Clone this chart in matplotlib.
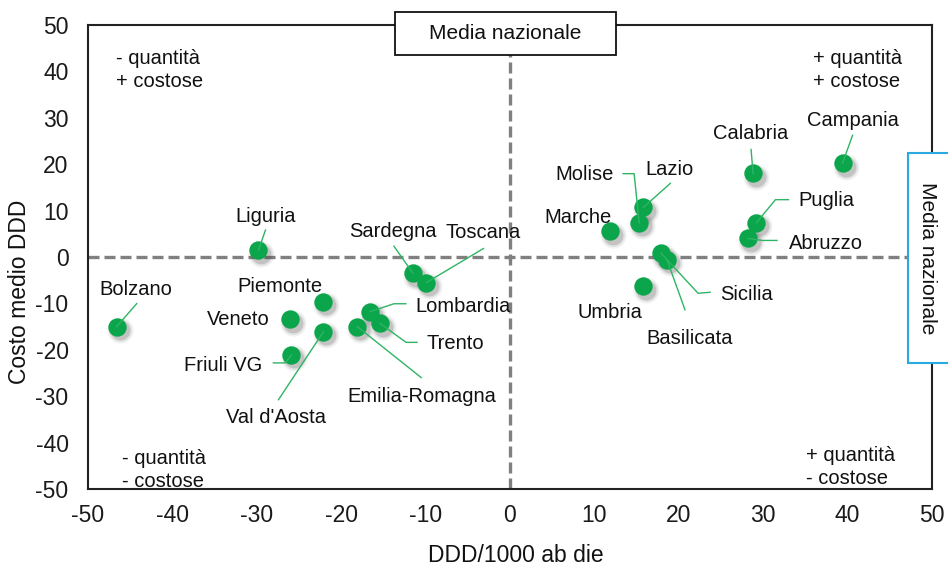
import numpy as np
import matplotlib
matplotlib.use("Agg")
import matplotlib.pyplot as plt
from matplotlib.patches import Rectangle
from matplotlib.lines import Line2D

plt.rcParams['font.family'] = ['Liberation Sans', 'DejaVu Sans']
plt.rcParams['axes.unicode_minus'] = False

# ---------------- data ----------------
regions = ["Bolzano", "Liguria", "Piemonte", "Veneto", "Friuli VG", "Val d'Aosta",
           "Emilia-Romagna", "Lombardia", "Trento", "Sardegna", "Toscana",
           "Marche", "Molise", "Lazio", "Umbria", "Sicilia", "Basilicata",
           "Calabria", "Campania", "Puglia", "Abruzzo"]
ddd = [-46.6, -29.8, -22.1, -26.1, -25.9, -22.1,
       -18.1, -16.6, -15.4, -11.5, -9.9,
       11.8, 15.3, 15.8, 15.8, 17.9, 18.6,
       28.8, 39.4, 29.2, 28.2]
costo = [-15.0, 1.5, -9.6, -13.4, -21.1, -16.1,
         -15.0, -11.8, -14.3, -3.5, -5.5,
         5.5, 7.4, 10.7, -6.25, 0.8, -0.6,
         18.0, 20.2, 7.4, 4.0]
xticks = [-50, -40, -30, -20, -10, 0, 10, 20, 30, 40, 50]
yticks = [-50, -40, -30, -20, -10, 0, 10, 20, 30, 40, 50]

# label placement (pixel offsets from point: text centre, leader polyline)
label_style = {
    "Bolzano": ((19, 37), [(20, 23)]),
    "Liguria": ((7, 34), [(7, 20)]),
    "Piemonte": ((-44, 15), None),
    "Veneto": ((-51, 0), None),
    "Friuli VG": ((-68, -11), [(-18, -8), (-6, -8)]),
    "Val d'Aosta": ((-47, -86), [(-45, -68)]),
    "Emilia-Romagna": ((65, -70), [(64, -51)]),
    "Lombardia": ((93, 5), [(36, 8), (24, 8)]),
    "Trento": ((75, -20), [(37, -19), (26, -19)]),
    "Sardegna": ((-20, 42), [(-19, 27)]),
    "Toscana": ((57, 50), [(57, 34)]),
    "Marche": ((-32, 14), None),
    "Molise": ((-55, 48), [(-16, 49), (-5, 49)]),
    "Lazio": ((26, 38), [(27, 24)]),
    "Umbria": ((-33, -26), None),
    "Sicilia": ((85, -41), [(49, -39), (37, -40)]),
    "Basilicata": ((23, -79), [(18, -50)]),
    "Calabria": ((-2, 40), [(-2, 24)]),
    "Campania": ((10, 43), [(10, 28)]),
    "Puglia": ((70, 22), [(32, 23), (19, 23)]),
    "Abruzzo": ((78, -5), [(29, -2), (14, -2)]),
}

W, H = 948, 569
fig = plt.figure(figsize=(W / 100, H / 100), dpi=100)
L, R, T, B = 88, 932, 25, 489
ax = fig.add_axes([L / W, 1 - B / H, (R - L) / W, (B - T) / H])
ax.set_xlim(-50, 50)
ax.set_ylim(-50, 50)
ax.set_xticks(xticks)
ax.set_yticks(yticks)
ax.tick_params(length=0, labelsize=16.5, colors='#1a1a1a')
ax.tick_params(axis='y', pad=14)
ax.tick_params(axis='x', pad=11)
for s in ax.spines.values():
    s.set_linewidth(1.5)
    s.set_color('#222222')

dash = (0, (3.3, 1.5))
ax.axhline(0, color='#808080', lw=2.4, ls=dash, dash_capstyle='butt', zorder=1)
ax.axvline(0, color='#808080', lw=2.4, ls=dash, dash_capstyle='butt', zorder=1)

green = '#0BA64B'
lead = '#2DB563'

fig.canvas.draw()
trans = ax.transData
for name, x, y in zip(regions, ddd, costo):
    px, py = trans.transform((x, y))
    (tdx, tdy), poly = label_style[name]
    if poly:
        xs = [px + dx for dx, dy in poly] + [px]
        ys = [py + dy for dx, dy in poly] + [py]
        fig.add_artist(Line2D(xs, ys, transform=None, color=lead, lw=1.0, zorder=2))
    ax.text(px + tdx, py + tdy, name, transform=None, ha='center', va='center',
            fontsize=14.5, color='#111111', zorder=4)

# shadows
offs = np.array([trans.transform((x, y)) + np.array([3, -3.5]) for x, y in zip(ddd, costo)])
for sz, al in [(360, 0.06), (270, 0.10), (200, 0.18)]:
    ax.scatter(offs[:, 0], offs[:, 1], s=sz, color='#404040', alpha=al,
               transform=None, linewidths=0, zorder=2.5)
ax.scatter(ddd, costo, s=175, color=green, linewidths=0, zorder=3)

# quadrant notes
def axfrac(px, py):
    return ((px - L) / (R - L), (B - py) / (B - T))

qn = dict(fontsize=14.5, color='#111111', ha='left', va='center', linespacing=1.25,
          transform=ax.transAxes, zorder=4)
ax.text(*axfrac(116, 70), "- quantità\n+ costose", **qn)
ax.text(*axfrac(813, 70), "+ quantità\n+ costose", **qn)
ax.text(*axfrac(122, 470), "- quantità\n- costose", **qn)
ax.text(*axfrac(806, 467), "+ quantità\n- costose", **qn)

# axis labels
fig.text(516 / W, 1 - 555 / H, "DDD/1000 ab die", ha='center', va='center', fontsize=16.5, color='#111111')
fig.text(20 / W, 1 - 292 / H, "Costo medio DDD", ha='center', va='center', rotation=90,
         fontsize=16.5, color='#111111')

# "Media nazionale" boxes
fig.add_artist(Rectangle((395 / W, 1 - 55 / H), 221 / W, 43 / H, transform=fig.transFigure,
                         facecolor='white', edgecolor='#111111', lw=1.3, zorder=5))
fig.text(505.5 / W, 1 - 33.5 / H, "Media nazionale", ha='center', va='center', fontsize=15,
         color='#111111', zorder=6)
fig.add_artist(Rectangle((908 / W, 1 - 363 / H), 60 / W, 210 / H, transform=fig.transFigure,
                         facecolor='white', edgecolor='#29ABE2', lw=1.5, zorder=5))
fig.text(927 / W, 1 - 258 / H, "Media nazionale", ha='center', va='center', rotation=-90,
         fontsize=15, color='#111111', zorder=6)

fig.savefig("out.png", dpi=100)
